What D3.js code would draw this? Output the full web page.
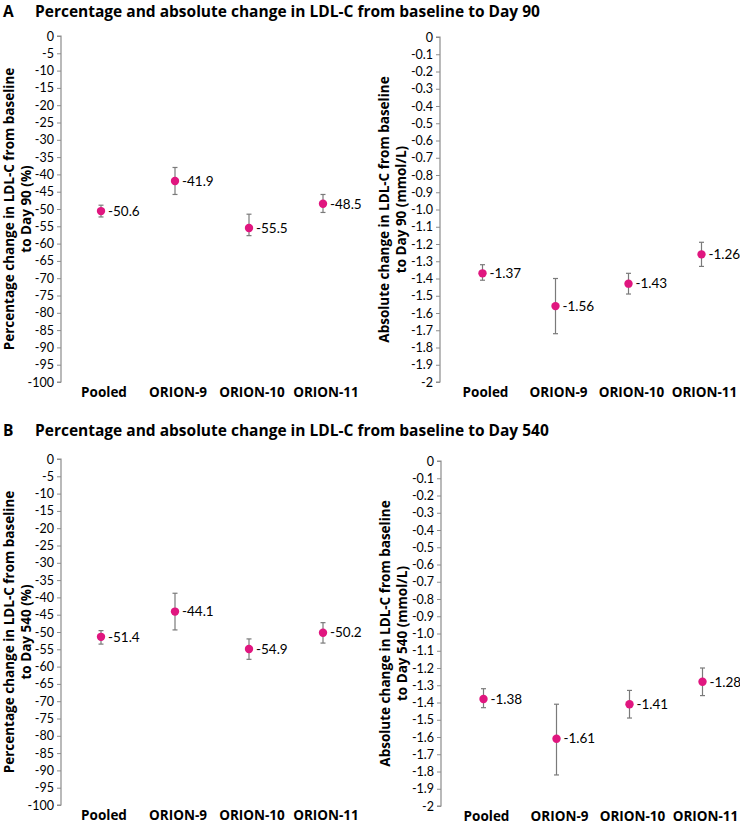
<!DOCTYPE html>
<html>
<head>
<meta charset="utf-8">
<script src="https://cdn.jsdelivr.net/npm/d3@7"></script>
<style>
  html, body { margin: 0; padding: 0; background: #fff; }
  svg { display: block; }
  text { font-family: Lato, "Open Sans", sans-serif; fill: #000; }
  .bold { font-family: "Open Sans", Lato, sans-serif; font-weight: bold; }
</style>
</head>
<body>
<svg id="chart" width="740" height="825"></svg>
<script>
// ---------- data ----------
const categories = ["Pooled", "ORION-9", "ORION-10", "ORION-11"];

const pct90    = [-50.6, -41.9, -55.5, -48.5];
const pct90Lo  = [-52.3, -45.8, -57.7, -51.0];
const pct90Hi  = [-48.9, -38.0, -51.5, -45.8];

const abs90    = [-1.37, -1.56, -1.43, -1.26];
const abs90Lo  = [-1.41, -1.72, -1.49, -1.33];
const abs90Hi  = [-1.32, -1.40, -1.37, -1.19];

const pct540   = [-51.4, -44.1, -54.9, -50.2];
const pct540Lo = [-53.5, -49.4, -57.9, -53.2];
const pct540Hi = [-49.6, -38.8, -52.0, -47.3];

const abs540   = [-1.38, -1.61, -1.41, -1.28];
const abs540Lo = [-1.43, -1.82, -1.49, -1.36];
const abs540Hi = [-1.32, -1.41, -1.33, -1.20];

const pctTicks = [0, -5, -10, -15, -20, -25, -30, -35, -40, -45, -50,
                  -55, -60, -65, -70, -75, -80, -85, -90, -95, -100];
const absTicks = [0, -0.1, -0.2, -0.3, -0.4, -0.5, -0.6, -0.7, -0.8, -0.9, -1.0,
                  -1.1, -1.2, -1.3, -1.4, -1.5, -1.6, -1.7, -1.8, -1.9, -2];
const absTickLabels = ["0", "-0.1", "-0.2", "-0.3", "-0.4", "-0.5", "-0.6", "-0.7", "-0.8", "-0.9", "-1.0",
                       "-1.1", "-1.2", "-1.3", "-1.4", "-1.5", "-1.6", "-1.7", "-1.8", "-1.9", "-2"];
const pctValueLabels = {p90: ["-50.6", "-41.9", "-55.5", "-48.5"], p540: ["-51.4", "-44.1", "-54.9", "-50.2"]};
const absValueLabels = {a90: ["-1.37", "-1.56", "-1.43", "-1.26"], a540: ["-1.38", "-1.61", "-1.41", "-1.28"]};

const panelTitles = [
  {letter: "A", text: "Percentage and absolute change in LDL-C from baseline to Day 90"},
  {letter: "B", text: "Percentage and absolute change in LDL-C from baseline to Day 540"}
];

// ---------- drawing ----------
const svg = d3.select("#chart");
const pointColor = "#e0167f";
const barColor = "#7a7a7a";
const axisColor = "#8c8c8c";

function drawPanel(cfg) {
  const g = svg.append("g");
  const y = d3.scaleLinear().domain(cfg.domain).range([cfg.yBottom, cfg.yTop]);
  const x = d3.scaleBand().domain(categories).range(cfg.xRange).padding(0);

  const axis = d3.axisLeft(y).tickValues(cfg.ticks).tickSize(4).tickPadding(3)
    .tickFormat((d, i) => cfg.tickLabels[i]);
  const ag = g.append("g").attr("transform", `translate(${cfg.axisX},0)`).call(axis);
  ag.select(".domain").attr("stroke", axisColor).attr("stroke-width", 1.2)
    .attr("d", `M-4,${cfg.yTop}H0V${cfg.yBottom}H-4`);
  ag.selectAll(".tick line").attr("stroke", axisColor);
  ag.selectAll(".tick text").attr("font-size", 12.5).attr("font-family", "Lato, sans-serif").attr("fill", "#111");

  // category labels
  g.selectAll(".cat").data(categories).enter().append("text")
    .attr("class", "bold")
    .attr("x", d => x(d) + x.bandwidth() / 2 + 3)
    .attr("y", cfg.yBottom + 15)
    .attr("text-anchor", "middle")
    .attr("font-size", 13.5)
    .text(d => d);

  const rows = categories.map((c, i) => ({c, v: cfg.values[i], lo: cfg.lo[i], hi: cfg.hi[i], lab: cfg.labels[i]}));
  const cx = d => x(d.c) + x.bandwidth() / 2;

  // error bars
  g.selectAll(".eb").data(rows).enter().append("line")
    .attr("x1", cx).attr("x2", cx)
    .attr("y1", d => y(d.lo)).attr("y2", d => y(d.hi))
    .attr("stroke", barColor).attr("stroke-width", 1.2);
  ["lo", "hi"].forEach(k => {
    g.selectAll(".cap" + k).data(rows).enter().append("line")
      .attr("x1", d => cx(d) - 2.5).attr("x2", d => cx(d) + 2.5)
      .attr("y1", d => y(d[k])).attr("y2", d => y(d[k]))
      .attr("stroke", barColor).attr("stroke-width", 1.2);
  });

  // points
  g.selectAll(".pt").data(rows).enter().append("circle")
    .attr("cx", cx).attr("cy", d => y(d.v)).attr("r", 4.2)
    .attr("fill", pointColor);

  // value labels
  g.selectAll(".vl").data(rows).enter().append("text")
    .attr("x", d => cx(d) + 7).attr("y", d => y(d.v))
    .attr("dy", "0.35em")
    .attr("font-size", 13.5)
    .text(d => d.lab);

  // y-axis title (two lines)
  const t = g.append("text")
    .attr("class", "bold")
    .attr("transform", `translate(${cfg.titleX},${(cfg.yTop + cfg.yBottom) / 2}) rotate(-90)`)
    .attr("text-anchor", "middle").attr("font-size", 13.5);
  t.append("tspan").attr("x", 0).attr("y", 0).text(cfg.yTitle[0]);
  t.append("tspan").attr("x", 0).attr("y", 17).text(cfg.yTitle[1]);
}

function drawTitle(i, baseY) {
  svg.append("text").attr("class", "bold").attr("x", 3).attr("y", baseY)
    .attr("font-size", 15.5).text(panelTitles[i].letter);
  svg.append("text").attr("class", "bold").attr("x", 35).attr("y", baseY)
    .attr("font-size", 15.5).text(panelTitles[i].text);
}

drawTitle(0, 17);
drawTitle(1, 436);

drawPanel({axisX: 61, yTop: 36, yBottom: 382, domain: [-100, 0], xRange: [64, 360],
  ticks: pctTicks, tickLabels: pctTicks.map(String),
  values: pct90, lo: pct90Lo, hi: pct90Hi, labels: pctValueLabels.p90,
  titleX: 14, yTitle: ["Percentage change in LDL-C from baseline", "to Day 90 (%)"]});

drawPanel({axisX: 440, yTop: 37, yBottom: 382, domain: [-2, 0], xRange: [446, 738],
  ticks: absTicks, tickLabels: absTickLabels,
  values: abs90, lo: abs90Lo, hi: abs90Hi, labels: absValueLabels.a90,
  titleX: 389, yTitle: ["Absolute change in LDL-C from baseline", "to Day 90 (mmol/L)"]});

drawPanel({axisX: 61, yTop: 459, yBottom: 805, domain: [-100, 0], xRange: [64, 360],
  ticks: pctTicks, tickLabels: pctTicks.map(String),
  values: pct540, lo: pct540Lo, hi: pct540Hi, labels: pctValueLabels.p540,
  titleX: 14, yTitle: ["Percentage change in LDL-C from baseline", "to Day 540 (%)"]});

drawPanel({axisX: 441, yTop: 461, yBottom: 806, domain: [-2, 0], xRange: [447, 739],
  ticks: absTicks, tickLabels: absTickLabels,
  values: abs540, lo: abs540Lo, hi: abs540Hi, labels: absValueLabels.a540,
  titleX: 390, yTitle: ["Absolute change in LDL-C from baseline", "to Day 540 (mmol/L)"]});
</script>
</body>
</html>
